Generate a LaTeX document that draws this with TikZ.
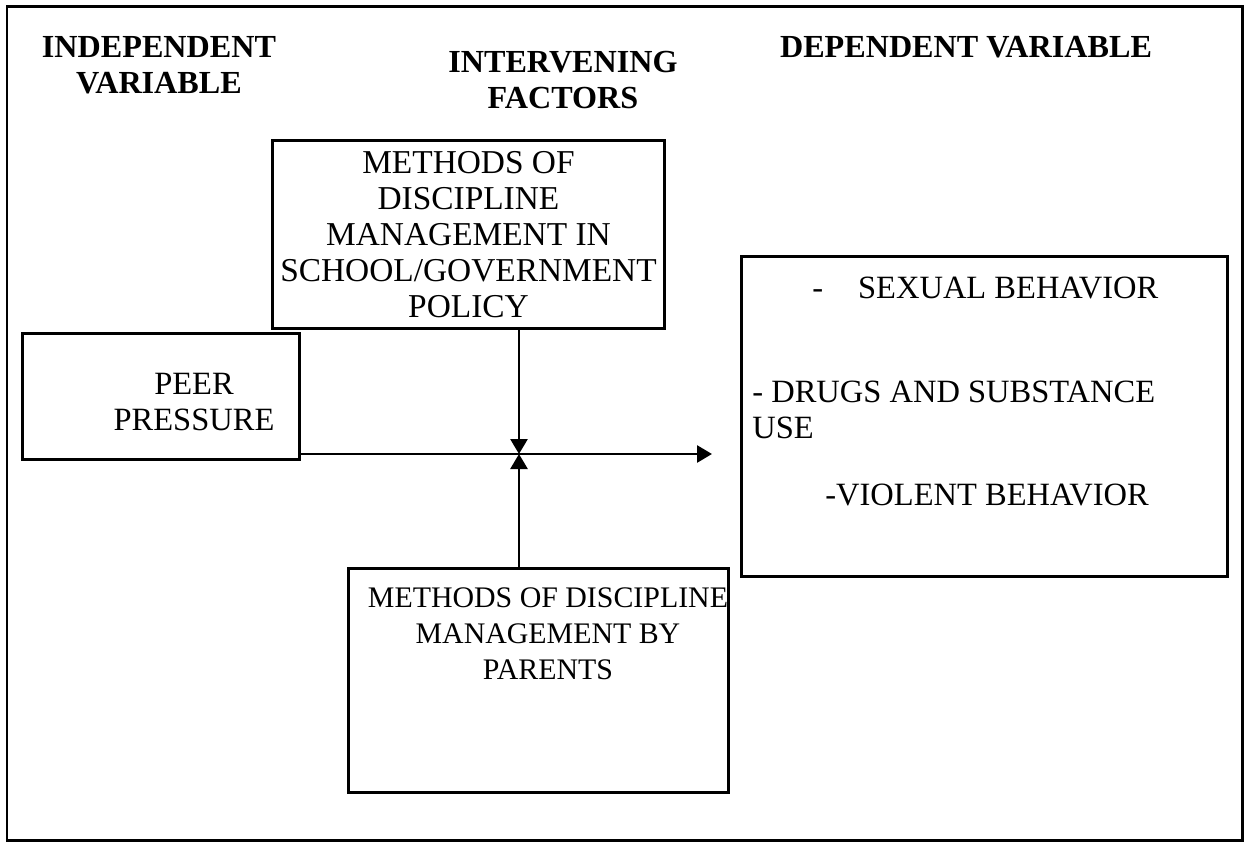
\documentclass[tikz,border=0pt]{standalone}
\usepackage{fontspec}
\setmainfont{Liberation Serif}
\usetikzlibrary{arrows.meta}

\begin{document}
\begin{tikzpicture}[x=0.02cm, y=-0.02cm]
\tikzstyle{every node}+=[font=\fontsize{18.5}{20.5}\selectfont]
\tikzstyle{box}=[draw, line width=0.06cm, inner sep=0pt]
\tikzstyle{head}=[font=\fontsize{18.3}{20.5}\selectfont\bfseries, align=center]
\tikzstyle{arr}=[line width=0.055cm, -{Triangle[length=0.3cm, width=0.34cm]}]
\useasboundingbox (0,0) rectangle (1252,842);
\draw [line width=0.06cm] (7,6) rectangle (1242,840);
% headings
\node [head] (indep) at (159,65) {INDEPENDENT\\VARIABLE};
\node [head] (interv) at (563,80) {INTERVENING\\FACTORS};
\node [head] (dep) at (966,47) {DEPENDENT VARIABLE};
% boxes
\node [box, minimum width=7.86cm, minimum height=3.78cm, align=center,
  font=\fontsize{19}{20.5}\selectfont] (school) at (468.5,234.5)
  {METHODS OF\\DISCIPLINE\\MANAGEMENT IN\\SCHOOL/GOVERNMENT\\POLICY};
\node [box, minimum width=5.56cm, minimum height=2.54cm] (peer) at (161,396.5) {};
\node [align=center] (peertxt) at (194,402) {PEER\\PRESSURE};
\node [box, minimum width=9.74cm, minimum height=6.42cm] (behav) at (984.5,416.5) {};
\node [anchor=west, inner sep=0pt] (sexual) at (812,288) {-\hspace{0.7cm}SEXUAL BEHAVIOR};
\node [anchor=west, inner sep=0pt, align=left] (drugs) at (752,410) {- DRUGS AND SUBSTANCE\\USE};
\node [anchor=west, inner sep=0pt] (violent) at (825,495) {-VIOLENT BEHAVIOR};
\node [box, minimum width=7.62cm, minimum height=4.5cm] (parents) at (538.5,680.5) {};
\node [align=center, font=\fontsize{17}{20.5}\selectfont] (parentstxt) at (548,634)
  {METHODS OF DISCIPLINE\\MANAGEMENT BY\\PARENTS};
% arrows
\coordinate (meet) at (519,454);
\coordinate (tip) at (712,454);
\draw [line width=0.055cm] (peer.east |- meet) -- (meet);
\draw [arr] (meet) -- (tip);
\draw [arr] (school.south -| meet) -- (meet);
\draw [arr] (parents.north -| meet) -- (meet);
\end{tikzpicture}
\end{document}
